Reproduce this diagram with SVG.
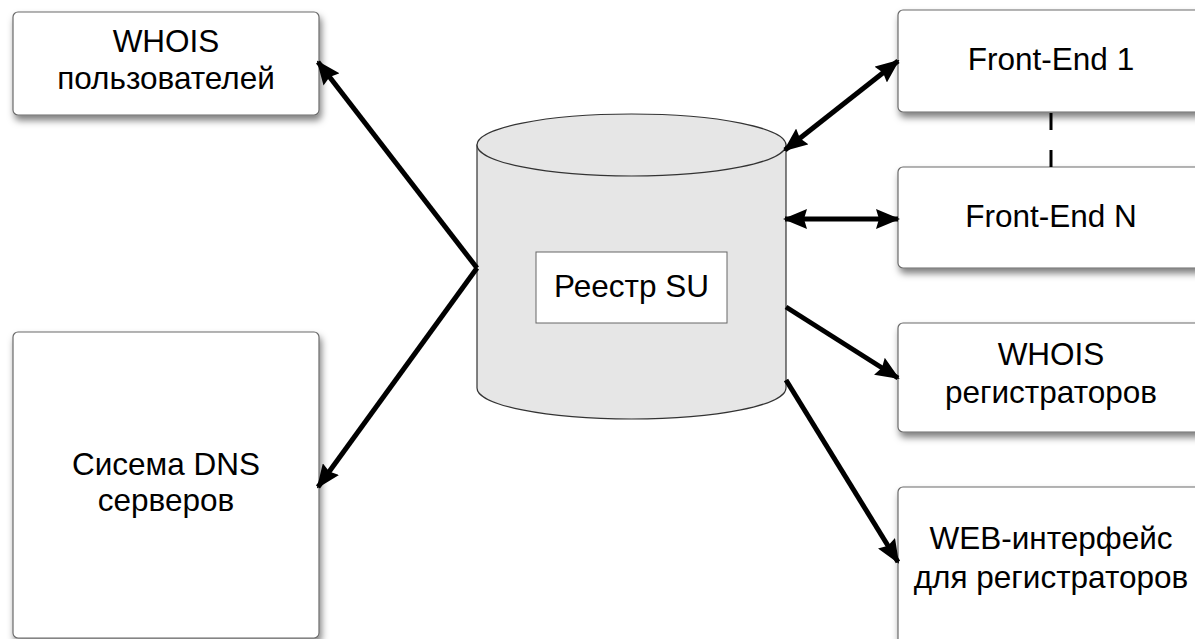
<svg xmlns="http://www.w3.org/2000/svg" width="1195" height="639" viewBox="0 0 1195 639">
<style>
.box{fill:#ffffff;stroke:#6b6b6b;stroke-width:1.2;filter:url(#sh)}
.lbl{font-family:"Liberation Sans",Arial,sans-serif;font-size:31.5px;fill:#000;text-anchor:middle}
.con{stroke:#000;stroke-width:5;fill:none}
</style>
<defs>
<filter id="sh" x="-10%" y="-10%" width="130%" height="140%">
<feDropShadow dx="2" dy="5" stdDeviation="3.5" flood-color="#000" flood-opacity="0.5"/>
</filter>
<marker id="ah" viewBox="0 0 24 20" refX="22" refY="10" markerWidth="24" markerHeight="20" markerUnits="userSpaceOnUse" orient="auto-start-reverse">
<path d="M0,0 L24,10 L0,20 L3,10 Z" fill="#000"/>
</marker>
</defs>
<rect width="1195" height="639" fill="#ffffff"/>

<g id="whois-users">
<rect class="box" x="13" y="12" width="306" height="103" rx="5"/>
<text class="lbl" x="166" y="52">WHOIS</text>
<text class="lbl" x="166" y="89">пользователей</text>
</g>

<g id="dns">
<rect class="box" x="13" y="332" width="306" height="306" rx="5"/>
<text class="lbl" x="166" y="475">Сисема DNS</text>
<text class="lbl" x="166" y="511">серверов</text>
</g>

<g id="registry">
<path d="M477,145 L477,388 A154.5,31 0 0 0 786,388 L786,145 Z" fill="#e6e6e6" stroke="#333" stroke-width="1.2"/>
<ellipse cx="631.5" cy="145" rx="154.5" ry="31" fill="#e6e6e6" stroke="#333" stroke-width="1.2"/>
<rect x="536" y="252" width="191" height="71" fill="#ffffff" stroke="#666" stroke-width="1"/>
<text class="lbl" x="631.5" y="297">Реестр SU</text>
</g>

<g id="frontend1">
<rect class="box" x="898" y="10" width="306" height="102" rx="5"/>
<text class="lbl" x="1051" y="70">Front-End 1</text>
</g>

<g id="frontendN">
<rect class="box" x="898" y="167" width="306" height="101" rx="5"/>
<text class="lbl" x="1051" y="227">Front-End N</text>
</g>

<g id="whois-reg">
<rect class="box" x="898" y="323" width="306" height="109" rx="5"/>
<text class="lbl" x="1051" y="365">WHOIS</text>
<text class="lbl" x="1051" y="403">регистраторов</text>
</g>

<g id="web">
<rect class="box" x="898" y="487" width="306" height="200" rx="5"/>
<text class="lbl" x="1051" y="549">WEB-интерфейс</text>
<text class="lbl" x="1051" y="588">для регистраторов</text>
</g>

<g id="connectors">
<line class="con" x1="477" y1="268" x2="318" y2="62" marker-end="url(#ah)"/>
<line class="con" x1="477" y1="268" x2="318" y2="487" marker-end="url(#ah)"/>
<line class="con" x1="785" y1="150" x2="898" y2="61" marker-start="url(#ah)" marker-end="url(#ah)"/>
<line class="con" x1="785" y1="219" x2="898" y2="219" marker-start="url(#ah)" marker-end="url(#ah)"/>
<line class="con" x1="786" y1="307" x2="898" y2="378" marker-end="url(#ah)"/>
<line class="con" x1="786" y1="380" x2="898" y2="562" marker-end="url(#ah)"/>
<line x1="1051" y1="113" x2="1051" y2="167" stroke="#000" stroke-width="3" stroke-dasharray="17 20"/>
</g>
</svg>
